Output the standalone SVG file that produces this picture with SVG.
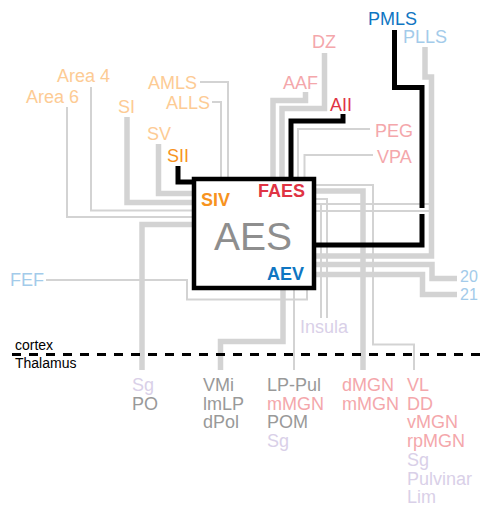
<svg xmlns="http://www.w3.org/2000/svg" width="482" height="508" viewBox="0 0 482 508">
<style>
.g{fill:none;stroke:#d3d3d3;stroke-linejoin:miter}
.t{stroke-width:2}
.k{stroke-width:5.5}
.b{fill:none;stroke:#000;stroke-width:5}
text{font-family:"Liberation Sans",Arial,sans-serif;font-size:18px}
.s{font-size:16px}
.lo{fill:#fdcb94}.or{fill:#f7931e}.pk{fill:#f4a7ab}.rd{fill:#e03444}.bl{fill:#0f76c2}.lb{fill:#a3cbea}.pu{fill:#d9d0e8}.gy{fill:#999}
.bd{font-weight:bold}
</style>
<rect width="482" height="508" fill="#fff"/>
<g id="connectors">
<path class="g t" d="M67,107V217H194"/>
<path class="g t" d="M91,87V210.5H194"/>
<path class="g k" d="M127,117V202.5H194"/>
<path class="g k" d="M158.5,144V193.5H194"/>
<path class="g t" d="M200,82H228V179"/>
<path class="g t" d="M212,102H221V179"/>
<path class="g k" d="M324.5,53V108.5H282V179"/>
<path class="g k" d="M305.5,92V100.5H273V179"/>
<path class="g t" d="M370,129H298V179"/>
<path class="g t" d="M373,155H304.5V179"/>
<path class="g k" d="M425,47V77H431.5V256H314"/>
<path class="g t" d="M314,185H373V344.5H414V370"/>
<path class="g k" d="M314,191H363V370"/>
<path class="g t" d="M314,199H327V318"/>
<path class="g t" d="M314,204H431"/>
<path class="g t" d="M314,211H431"/>
<path class="g t" d="M321,204V318"/>
<path class="g k" d="M314,264.5H432V278.5H457"/>
<path class="g k" d="M314,274.5H422.5V294.5H457"/>
<path class="g k" d="M194,224.5H142V370"/>
<path class="g t" d="M46,280H187V299.5H307V288"/>
<path class="g k" d="M283,288V341.5H220.5V370"/>
<path class="g t" d="M294,288V370"/>
<path fill="none" stroke="#777" stroke-width="1.6" d="M234,201.5H243.5V193.5H256"/>
<path class="b" d="M178,166V182H194"/>
<path class="b" d="M343,114V121H291V179"/>
<path class="b" d="M394.5,30V87.5H422V208M422,214V245H314"/>
<path fill="none" stroke="#000" stroke-width="3" stroke-dasharray="9 8" d="M12,354.5H482"/>
</g>
<g id="AES">
<rect x="194" y="179" width="120" height="109" fill="#fff" stroke="#000" stroke-width="4.5"/>
<text x="253" y="250" text-anchor="middle" style="font-size:39px" fill="#8e8e8e">AES</text>
<text class="or bd" x="201" y="206">SIV</text>
<text class="rd bd" x="258" y="197">FAES</text>
<text class="bl bd" x="267" y="280">AEV</text>
</g>
<g id="cortex-labels">
<text class="lo" x="57" y="82">Area 4</text>
<text class="lo" x="26" y="103">Area 6</text>
<text class="lo" x="118" y="113">SI</text>
<text class="lo" x="147" y="140">SV</text>
<text class="or" x="167" y="162">SII</text>
<text class="lo" x="148" y="89">AMLS</text>
<text class="lo" x="166" y="109">ALLS</text>
<text class="pk" x="312" y="48">DZ</text>
<text class="pk" x="283" y="89">AAF</text>
<text class="rd" x="330" y="111">AII</text>
<text class="pk" x="375" y="137">PEG</text>
<text class="pk" x="377" y="163">VPA</text>
<text class="bl" x="368" y="25">PMLS</text>
<text class="lb" x="403" y="43">PLLS</text>
<text class="lb" x="10" y="286">FEF</text>
<text class="lb s" x="460" y="282">20</text>
<text class="lb s" x="460" y="300">21</text>
<text class="pu" x="300" y="333">Insula</text>
</g>
<g id="divider">
<text x="15" y="350" style="font-size:14px" fill="#000">cortex</text>
<text x="15" y="368" style="font-size:14px" fill="#000">Thalamus</text>
</g>
<g id="thalamus-labels" style="font-size:17.5px">
<text class="pu" x="132" y="391">Sg</text>
<text class="gy" x="132" y="410">PO</text>
<text class="gy" x="203" y="391">VMi</text>
<text class="gy" x="203" y="409.7">lmLP</text>
<text class="gy" x="203" y="428.4">dPol</text>
<text class="gy" x="267" y="391">LP-Pul</text>
<text class="pk" x="267" y="409.7">mMGN</text>
<text class="gy" x="267" y="428.4">POM</text>
<text class="pu" x="267" y="447.1">Sg</text>
<text class="pk" x="342" y="391">dMGN</text>
<text class="pk" x="342" y="409.7">mMGN</text>
<text class="pk" x="407" y="391">VL</text>
<text class="pk" x="407" y="409.7">DD</text>
<text class="pk" x="407" y="428.4">vMGN</text>
<text class="pk" x="407" y="447.1">rpMGN</text>
<text class="pu" x="407" y="465.8">Sg</text>
<text class="pu" x="407" y="484.5">Pulvinar</text>
<text class="pu" x="407" y="503.2">Lim</text>
</g>
</svg>
